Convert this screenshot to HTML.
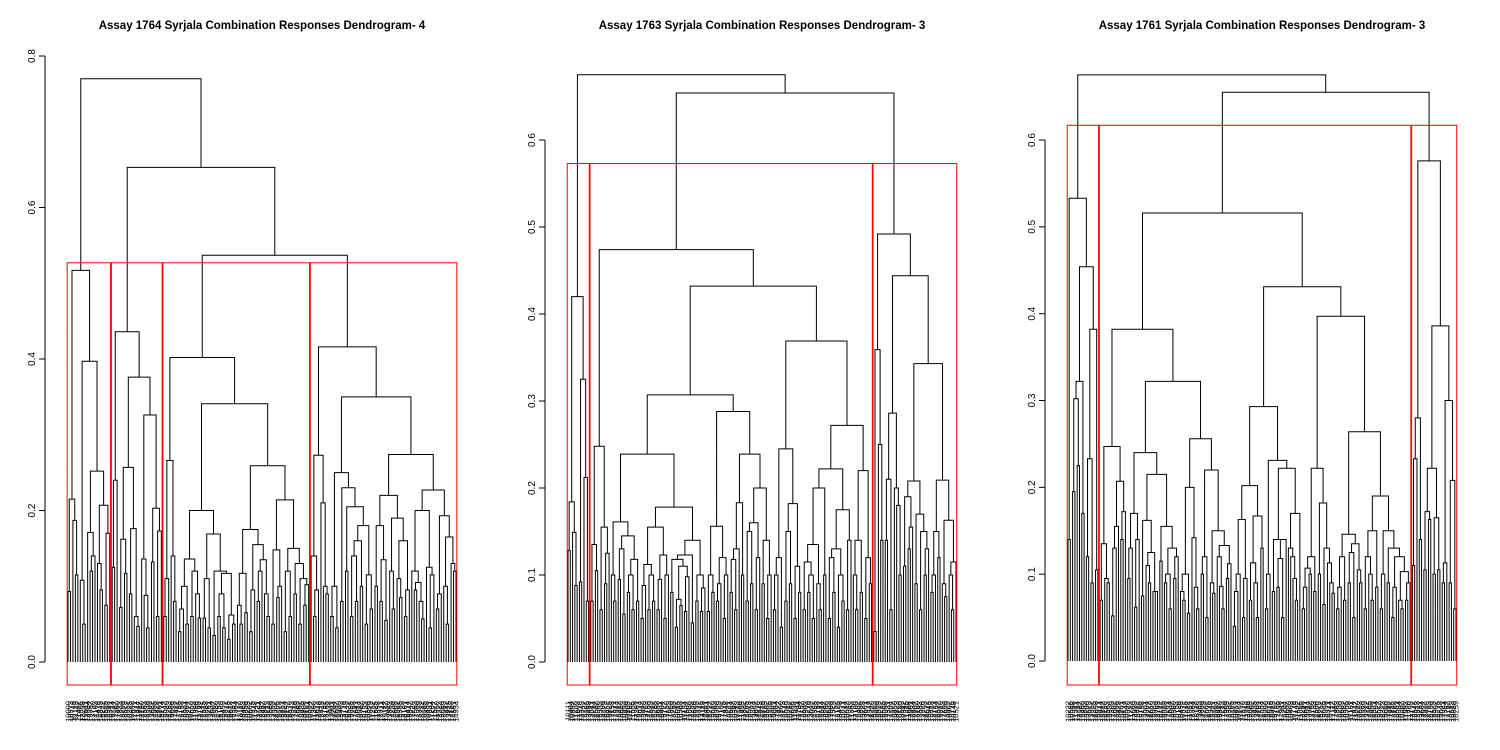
<!DOCTYPE html>
<html><head><meta charset="utf-8">
<style>
html,body{margin:0;padding:0;background:#fff;}
svg{display:block;font-family:"Liberation Sans",sans-serif;}
</style></head>
<body>
<svg id="chart" width="1500" height="750" viewBox="0 0 1500 750" xmlns="http://www.w3.org/2000/svg"></svg>
<script>
// ---------- Panel 1 data (adjacent-leaf merge heights) ----------
const p1c1 = [0.093,0.215,0.187,0.115,0.517,0.108,0.05,0.397,0.171,0.12,0.14,0.252,0.13,0.095,0.207,0.075,0.17];
const p1c2 = [0.125,0.24,0.436,0.072,0.162,0.117,0.257,0.09,0.176,0.06,0.047,0.376,0.136,0.088,0.045,0.326,0.132,0.203,0.06,0.173];
const p1c3 = [0.06,0.11,0.266,0.14,0.08,0.402,
  0.04,0.07,0.1,0.05,0.136,0.06,0.12,0.09,0.058,0.2,0.058,0.11,0.045,0.169,0.035,0.12,0.06,0.09,0.045,0.117,0.03,0.062,0.05,0.341,
  0.075,0.05,0.117,0.065,0.175,0.04,0.095,0.155,0.08,0.12,0.135,0.09,0.06,0.259,
  0.05,0.148,0.085,0.1,0.214,0.04,0.12,0.06,0.15,0.09,0.13,0.05,0.11,0.075,0.102];
const p1c4 = [0.14,0.06,0.095,0.273,0.21,0.1,0.09,0.416,
  0.06,0.1,0.045,0.25,0.08,0.23,0.12,0.205,0.06,0.14,0.08,0.16,0.1,0.18,0.05,0.115,0.07,0.35,
  0.1,0.18,0.08,0.135,0.055,0.22,0.12,0.07,0.19,0.11,0.085,0.16,0.06,0.095,0.274,
  0.12,0.095,0.105,0.08,0.057,0.2,0.125,0.045,0.115,0.227,0.07,0.09,0.193,0.1,0.05,0.165,0.13,0.12];
const p1joins = [0.77,0.653,0.537];
const p1ticks = [0,0.2,0.4,0.6,0.8];
const p1tickLabels = ["0.0","0.2","0.4","0.6","0.8"];
const p1cut = 0.527;

// ---------- Panel 2 data ----------
const p2c1 = [0.128,0.184,0.149,0.088,0.42,0.092,0.325,0.212,0.07];
const p2c2 = [0.07,0.135,0.105,0.248,0.06,0.155,0.09,0.125,0.474,
  0.1,0.07,0.161,0.095,0.13,0.055,0.145,0.08,0.1,0.06,0.118,0.07,0.239,
  0.05,0.088,0.112,0.06,0.1,0.07,0.155,0.06,0.095,0.123,0.05,0.1,0.178,0.08,0.118,0.04,0.072,0.065,0.11,0.058,0.098,0.123,0.045,0.14,0.07,0.1,0.058,0.085,0.307,
  0.058,0.1,0.08,0.156,0.07,0.09,0.12,0.05,0.1,0.288,
  0.08,0.118,0.06,0.13,0.183,0.1,0.239,0.07,0.15,0.09,0.16,0.06,0.12,0.2,0.09,0.14,0.05,0.1,0.432,
  0.06,0.1,0.12,0.04,0.245,0.07,0.15,0.09,0.182,0.05,0.11,0.08,0.369,
  0.06,0.115,0.08,0.1,0.05,0.135,0.09,0.06,0.2,0.1,0.222,0.05,0.12,0.08,0.13,0.04,0.1,0.07,0.175,0.06,0.14,0.272,
  0.1,0.06,0.14,0.08,0.22,0.05,0.12,0.09];
const p2c3 = [0.035,0.359,0.25,0.14,0.492,
  0.14,0.21,0.06,0.286,0.2,0.18,0.1,0.444,
  0.11,0.19,0.13,0.155,0.208,0.09,0.17,0.06,0.15,0.1,0.13,0.343,
  0.08,0.1,0.15,0.12,0.209,0.09,0.075,0.163,0.1,0.06,0.115];
const p2joins = [0.675,0.654];
const p2ticks = [0,0.1,0.2,0.3,0.4,0.5,0.6];
const p2tickLabels = ["0.0","0.1","0.2","0.3","0.4","0.5","0.6"];
const p2cut = 0.573;

// ---------- Panel 3 data ----------
const p3c1 = [0.14,0.533,0.195,0.302,0.225,0.322,0.17,0.454,0.12,0.233,0.09,0.382,0.105];
const p3c2 = [0.07,0.135,0.095,0.09,0.247,0.052,0.13,0.155,0.207,0.14,0.172,0.382,
  0.095,0.13,0.17,0.062,0.14,0.24,0.075,0.162,0.11,0.09,0.125,0.08,0.08,0.215,0.115,0.155,0.09,0.1,0.06,0.13,0.095,0.12,0.322,
  0.08,0.07,0.1,0.055,0.2,0.142,0.085,0.06,0.256,0.1,0.12,0.05,0.22,0.09,0.078,0.15,0.12,0.086,0.06,0.133,0.095,0.112,0.516,
  0.04,0.08,0.1,0.163,0.05,0.095,0.202,0.07,0.113,0.09,0.05,0.167,0.13,0.293,0.06,0.1,0.231,0.08,0.14,0.085,0.118,0.05,0.14,0.222,0.13,0.12,0.095,0.07,0.17,0.431,
  0.06,0.085,0.107,0.1,0.12,0.08,0.222,0.1,0.182,0.065,0.13,0.113,0.09,0.078,0.397,
  0.06,0.085,0.12,0.07,0.146,0.09,0.125,0.05,0.135,0.105,0.09,0.264,0.06,0.12,0.1,0.07,0.15,0.085,0.19,0.06,0.1,0.15,0.09,0.13,0.05,0.085,0.12,0.07,0.06,0.103,0.07,0.09];
const p3c3 = [0.11,0.233,0.28,0.14,0.576,0.105,0.172,0.163,0.222,0.1,0.165,0.105,0.386,0.09,0.113,0.3,0.09,0.208,0.06];
const p3joins = [0.675,0.655];
const p3ticks = [0,0.1,0.2,0.3,0.4,0.5,0.6];
const p3tickLabels = ["0.0","0.1","0.2","0.3","0.4","0.5","0.6"];
const p3cut = 0.617;

const titles = ["Assay 1764 Syrjala Combination Responses Dendrogram- 4",
                "Assay 1763 Syrjala Combination Responses Dendrogram- 3",
                "Assay 1761 Syrjala Combination Responses Dendrogram- 3"];

const NS = "http://www.w3.org/2000/svg";
const svg = document.getElementById('chart');

function mk(tag, attrs, parent){
  const e = document.createElementNS(NS, tag);
  for (const k in attrs) e.setAttribute(k, attrs[k]);
  parent.appendChild(e);
  return e;
}

function panel(idx, clusters, joins, ticks, tickLabels, cut, cfg){
  const g = mk('g', {}, svg);
  
  
  let gaps = [];
  clusters.forEach((c, i) => { gaps = gaps.concat(c); if (i < joins.length) gaps.push(joins[i]); });
  const n = gaps.length + 1;
  const sp = (cfg.x1 - cfg.x0) / (n - 1);
  const X = i => cfg.x0 + i * sp;
  const Y = h => cfg.y0 - h * cfg.scale;

  const t = mk('text', {x: cfg.tx, y: 29, 'text-anchor': 'middle', 'font-size': 11.5, 'font-weight': 'bold', fill: '#000'}, g);
  t.textContent = titles[idx];
  
  

  const ax = mk('g', {}, g);
  
  
  mk('line', {x1: cfg.ax, x2: cfg.ax, y1: Y(ticks[0]), y2: Y(ticks[ticks.length-1]), stroke: '#000', 'stroke-width': 1}, ax);
  ticks.forEach((v, i) => {
    const y = Y(v);
    mk('line', {x1: cfg.ax - 6, x2: cfg.ax, y1: y, y2: y, stroke: '#000', 'stroke-width': 1}, ax);
    const lb = mk('text', {x: cfg.ax - 10, y: y, 'text-anchor': 'middle', 'font-size': 10, fill: '#000', transform: `rotate(-90 ${cfg.ax - 10} ${y})`}, ax);
    lb.textContent = tickLabels[i];
    
    
  });

  let d = '';
  function build(lo, hi){
    if (lo === hi) return {x: X(lo), h: 0};
    let k = lo;
    for (let j = lo; j < hi; j++) if (gaps[j] > gaps[k]) k = j;
    const L = build(lo, k), R = build(k+1, hi);
    const H = gaps[k];
    d += `M${L.x.toFixed(2)} ${Y(L.h).toFixed(2)}V${Y(H).toFixed(2)}H${R.x.toFixed(2)}V${Y(R.h).toFixed(2)}`;
    return {x: (L.x + R.x) / 2, h: H};
  }
  build(0, n - 1);
  const p = mk('path', {d: d, fill: 'none', stroke: '#000', 'stroke-width': 1}, g);
  
  

  let start = 0;
  for (let j = 0; j <= gaps.length; j++){
    if (j === gaps.length || gaps[j] > cut){
      const xl = X(start) - 0.34 * sp, xr = X(j) + 0.33 * sp;
      const r = mk('rect', {x: xl, y: Y(cut), width: xr - xl, height: 685 - Y(cut), fill: 'none', stroke: '#ff0000', 'stroke-width': 1}, g);
      
      
      start = j + 1;
    }
  }

  const lg = mk('g', {'font-size': 7.5, fill: '#000'}, g);
  
  
  for (let i = 0; i < n; i++){
    const x = X(i) + 2.5;
    const lt = mk('text', {x: x, y: 701, 'text-anchor': 'end', transform: `rotate(-90 ${x} 701)`}, lg);
    lt.textContent = String(10000 + ((i * 373 + idx * 111) % 9000));
  }
}

panel(0, [p1c1,p1c2,p1c3,p1c4], p1joins, p1ticks, p1tickLabels, p1cut,
  {x0: 68, x1: 456, y0: 662, scale: 757.5, ax: 45, tx: 262});
panel(1, [p2c1,p2c2,p2c3], p2joins, p2ticks, p2tickLabels, p2cut,
  {x0: 568, x1: 956, y0: 662, scale: 870, ax: 545, tx: 762});
panel(2, [p3c1,p3c2,p3c3], p3joins, p3ticks, p3tickLabels, p3cut,
  {x0: 1068, x1: 1456, y0: 661, scale: 868.3, ax: 1045, tx: 1262});
</script>
</body></html>
